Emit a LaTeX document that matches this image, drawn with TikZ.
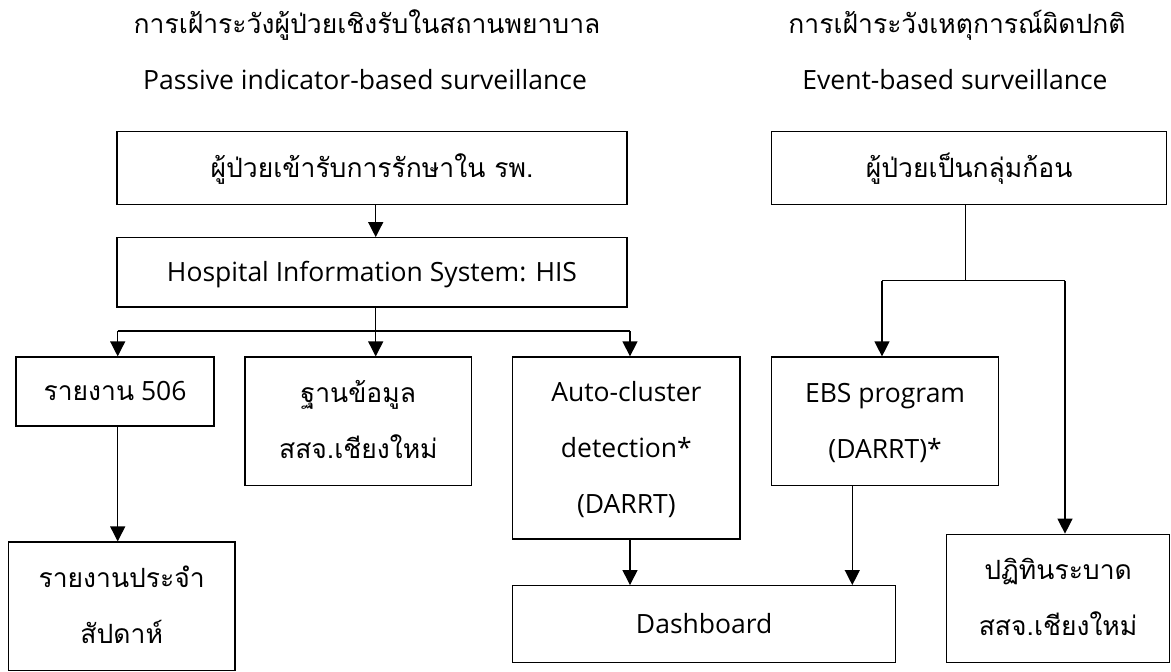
\documentclass[tikz,border=0pt]{standalone}
\usepackage{fontspec}
\setmainfont{Open Sans}
\newfontfamily\thai[Script=Thai]{Loma}
\usetikzlibrary{arrows.meta}
\newcommand\ls{\rule[-18.55pt]{0pt}{56pt}}
\tikzset{
  box/.style={draw, line width=1.3pt, inner sep=0pt, align=center, font=\fontsize{26.5}{56}\selectfont},
  arr/.style={line width=1.3pt, -{Triangle[width=15pt,length=15pt]}},
  ln/.style={line width=1.3pt},
  ttl/.style={inner sep=0pt, anchor=base, font=\fontsize{26.5}{56}\selectfont}
}
\begin{document}
\begin{tikzpicture}[x=1pt, y=-1pt]
\useasboundingbox (0,0) rectangle (1171,672);
% titles
\node[ttl] (t1) at (367,33) {\thai การเฝ้าระวังผู้ป่วยเชิงรับในสถานพยาบาล};
\node[ttl] (t2) at (365,89) {Passive indicator-based surveillance};
\node[ttl] (t3) at (957,33) {\thai การเฝ้าระวังเหตุการณ์ผิดปกติ};
\node[ttl] (t4) at (955,89) {Event-based surveillance};
% boxes
\node[box, minimum width=510pt, minimum height=72.6pt] (box1) at (372,168) {\ls{\thai ผู้ป่วยเข้ารับการรักษาใน รพ.}};
\node[box, minimum width=510pt, minimum height=69.3pt] (his) at (372,272.4) {\ls Hospital Information System: HIS};
\node[box, minimum width=395pt, minimum height=72.6pt] (rtop) at (969.2,168) {\ls{\thai ผู้ป่วยเป็นกลุ่มก้อน}};
\node[box, minimum width=198pt, minimum height=69pt] (r506) at (115,391.5) {\ls{\thai รายงาน} 506};
\node[box, minimum width=226.7pt, minimum height=128.7pt] (db) at (358.4,421.4) {\ls{\thai ฐานข้อมูล}\\\ls{\thai สสจ.เชียงใหม่}};
\node[box, minimum width=227.3pt, minimum height=182pt] (auto) at (626.4,448) {\ls Auto-cluster\\\ls detection*\\\ls (DARRT)};
\node[box, minimum width=226.8pt, minimum height=128.7pt] (ebs) at (885.1,421.4) {\ls EBS program\\\ls (DARRT)*};
\node[box, minimum width=226.7pt, minimum height=128.5pt] (weekly) at (121.7,606.3) {\ls{\thai รายงานประจำ}\\\ls{\thai สัปดาห์}};
\node[box, minimum width=383pt, minimum height=77pt] (dash) at (704.2,624.2) {\ls Dashboard};
\node[box, minimum width=222.8pt, minimum height=128.4pt] (cal) at (1058.1,598.5) {\ls{\thai ปฏิทินระบาด}\\\ls{\thai สสจ.เชียงใหม่}};
% junctions
\coordinate (hisx) at (375.7,331);
\coordinate (jl) at (117.7,331);
\coordinate (jr) at (630,331);
\coordinate (rj) at (965.7,280.7);
\coordinate (rl) at (882,280.7);
\coordinate (rr) at (1065,280.7);
\coordinate (ed) at (852.3,560);
% connectors
\draw[arr] (box1.south -| hisx) -- (his.north -| hisx);
\draw[ln] (his.south -| hisx) -- (hisx);
\draw[ln] (jl) -- (jr);
\draw[arr] (jl) -- (r506.north -| jl);
\draw[arr] (hisx) -- (db.north -| hisx);
\draw[arr] (jr) -- (auto.north -| jr);
\draw[ln] (rtop.south -| rj) -- (rj);
\draw[ln] (rl) -- (rr);
\draw[arr] (rl) -- (ebs.north -| rl);
\draw[arr] (rr) -- (cal.north -| rr);
\draw[arr] (r506.south -| jl) -- (weekly.north -| jl);
\draw[arr] (auto.south -| jr) -- (dash.north -| jr);
\draw[arr] (ebs.south -| ed) -- (dash.north -| ed);
\end{tikzpicture}
\end{document}
